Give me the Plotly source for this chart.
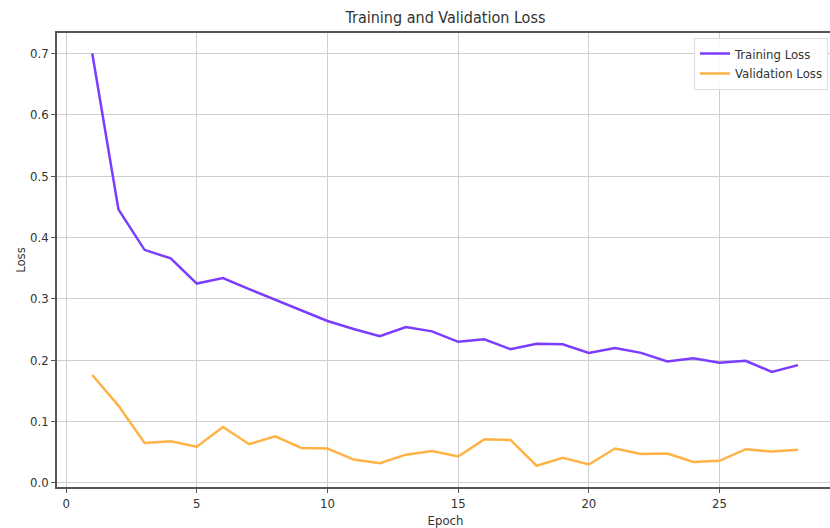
import plotly.graph_objects as go

epochs = list(range(1, 29))
training_loss = [0.700, 0.446, 0.380, 0.366, 0.325, 0.334, 0.316, 0.299, 0.281, 0.264,
                 0.251, 0.239, 0.254, 0.247, 0.230, 0.234, 0.218, 0.227, 0.226, 0.212,
                 0.220, 0.212, 0.198, 0.203, 0.196, 0.199, 0.181, 0.192]
validation_loss = [0.176, 0.126, 0.065, 0.068, 0.059, 0.091, 0.063, 0.076, 0.057, 0.056,
                   0.038, 0.032, 0.046, 0.052, 0.043, 0.071, 0.070, 0.028, 0.041, 0.030,
                   0.056, 0.047, 0.048, 0.034, 0.036, 0.055, 0.051, 0.054]
x_ticks = [0, 5, 10, 15, 20, 25]
y_ticks = [0.0, 0.1, 0.2, 0.3, 0.4, 0.5, 0.6, 0.7]

FONT = "DejaVu Sans Condensed, DejaVu Sans, sans-serif"
W = 834  # plot extends a little past the visible window, as in the reference

fig = go.Figure()
fig.add_trace(go.Scatter(x=epochs, y=training_loss, mode="lines", name="Training Loss",
                         line=dict(color="#7c3cff", width=2.5)))
fig.add_trace(go.Scatter(x=epochs, y=validation_loss, mode="lines", name="Validation Loss",
                         line=dict(color="#ffb347", width=2.5)))

fig.update_layout(
    width=W, height=528,
    margin=dict(l=57, r=0, t=33, b=41, pad=0),
    paper_bgcolor="white", plot_bgcolor="white",
    font=dict(family=FONT, size=13, color="#333333"),
    title=dict(text="Training and Validation Loss", x=(57 + W) / 2 / W, xanchor="center",
               y=1 - 17 / 528, yanchor="middle", font=dict(size=16, color="#333333")),
    legend=dict(x=(828 - 57) / (W - 57), xanchor="right", y=0.99, yanchor="top",
                bgcolor="rgba(255,255,255,0.9)", bordercolor="#dddddd", borderwidth=1,
                font=dict(size=13, color="#333333"), itemwidth=30, tracegroupgap=0),
    showlegend=True,
)
fig.update_xaxes(
    range=[-0.35, 29.38], tickvals=x_ticks, ticktext=[str(v) for v in x_ticks],
    showgrid=True, gridcolor="#cfcfcf", gridwidth=1, zeroline=False,
    showline=True, linecolor="#555555", linewidth=1.5, mirror=True,
    ticks="outside", ticklen=4, tickcolor="#555555", automargin=False,
    title=dict(text="Epoch", font=dict(size=13), standoff=7),
)
fig.update_yaxes(
    range=[-0.0067, 0.7335], tickvals=y_ticks, ticktext=[f"{v:.1f}" for v in y_ticks],
    showgrid=True, gridcolor="#cfcfcf", gridwidth=1, zeroline=False,
    showline=True, linecolor="#555555", linewidth=1.5,
    ticks="outside", ticklen=4, tickcolor="#555555", automargin=False,
    title=dict(text="Loss", font=dict(size=13), standoff=2),
)

fig.write_html(
    "out.html",
    config={"displayModeBar": False},
    post_script="document.body.style.margin='0';document.documentElement.style.overflow='hidden';",
)
